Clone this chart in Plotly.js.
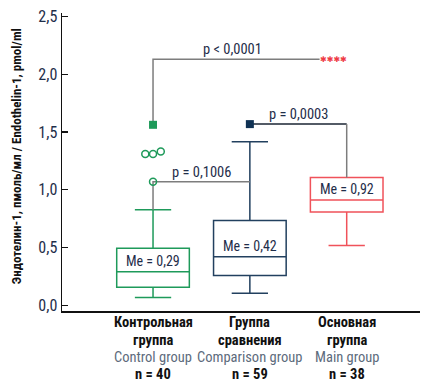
<!DOCTYPE html>
<html><head><meta charset="utf-8">
<script src="https://cdn.plot.ly/plotly-3.0.1.min.js"></script>
<style>html,body{margin:0;padding:0;background:#fff;}#chart{width:428px;height:388px;}</style>
</head><body><div id="chart"></div>
<script>
// --- data ---
const groupPos = [0, 1, 2];
const groupRu1 = ["Контрольная", "Группа", "Основная"];
const groupRu2 = ["группа", "сравнения", "группа"];
const groupEn = ["Control group", "Comparison group", "Main group"];
const groupN = [40, 59, 38];
const q1 = [0.156, 0.257, 0.808];
const median = [0.29, 0.42, 0.91];
const q3 = [0.494, 0.733, 1.106];
const lowerWhisker = [0.066, 0.104, 0.516];
const upperWhisker = [0.826, 1.415, 1.106];
const medianLabels = ["Me = 0,29", "Me = 0,42", "Me = 0,92"];
const colors = ["#1e9a5a", "#22405f", "#f0525a"];
// control group outliers (open circles), x jitter within group
const outlierX = [0, -0.08, 0, 0.08];
const outlierY = [1.07, 1.31, 1.31, 1.33];
// extreme values (filled squares)
const extremeX = [0, 1];
const extremeY = [1.562, 1.568];
// significance comparisons
const pLabels = ["p < 0,0001", "p = 0,1006", "p = 0,0003"];
const bracketY = [2.13, 1.07, 1.568];

const FONT = "'Liberation Sans Narrow', 'Arial Narrow', 'Roboto Condensed', sans-serif";
const TXT = "#1f2e4a";
const GRAY = "#7d7d7d";

const traces = groupPos.map((x, i) => ({
  type: "box",
  x: [x],
  q1: [q1[i]], median: [median[i]], q3: [q3[i]],
  lowerfence: [lowerWhisker[i]], upperfence: [upperWhisker[i]],
  width: 0.75,
  whiskerwidth: 0.5,
  fillcolor: "rgba(255,255,255,0)",
  line: {color: colors[i], width: 1.5},
  boxpoints: false,
  hoverinfo: "skip",
  showlegend: false
}));

const seg = (xs, ys, c) => ({type: "scatter", mode: "lines", x: xs, y: ys,
  line: {color: c, width: 1.5}, hoverinfo: "skip", showlegend: false});
const brackets = [
  seg([groupPos[0], groupPos[0], 1.72], [extremeY[0], bracketY[0], bracketY[0]], GRAY),
  seg([groupPos[0], groupPos[0], groupPos[1]], [upperWhisker[0], bracketY[1], bracketY[1]], GRAY),
  seg([groupPos[1], groupPos[2]], [bracketY[2], bracketY[2]], "#1a2433"),
  seg([groupPos[2], groupPos[2]], [bracketY[2], q3[2]], GRAY)
];

const outliers = {type: "scatter", mode: "markers", x: outlierX, y: outlierY,
  marker: {symbol: "circle-open", size: 7, color: colors[0], line: {width: 1.5, color: colors[0]}},
  hoverinfo: "skip", showlegend: false};
const extremes = {type: "scatter", mode: "markers", x: extremeX, y: extremeY,
  marker: {symbol: "square", size: 8, color: [colors[0], "#0f3154"]},
  hoverinfo: "skip", showlegend: false};

const data = [...brackets, ...traces, outliers, extremes];

const annotations = [];
// category labels, one annotation per line
const lineShift = [-11.5, -29, -46, -63];
groupPos.forEach((x, i) => {
  const lines = [
    {t: "<b>" + groupRu1[i] + "</b>", c: "#111"},
    {t: "<b>" + groupRu2[i] + "</b>", c: "#111"},
    {t: groupEn[i], c: "#5d6b7c"},
    {t: "<b>n = " + groupN[i] + "</b>", c: "#111"}
  ];
  lines.forEach((l, k) => annotations.push({
    x: x, xref: "x", y: 0, yref: "paper", yshift: lineShift[k], text: l.t, showarrow: false,
    xanchor: "center", yanchor: "middle", font: {family: FONT, size: 14.5, color: l.c}
  }));
});
groupPos.forEach((x, i) => annotations.push({
  x: x, y: median[i], yshift: 11, text: medianLabels[i], showarrow: false,
  font: {family: FONT, size: 14, color: TXT}, xanchor: "center", yanchor: "middle"
}));
const pX = [0.82, 0.5, 1.5];
pLabels.forEach((t, i) => annotations.push({
  x: pX[i], y: bracketY[i], text: t, showarrow: false, yanchor: "bottom", yshift: -1,
  font: {family: FONT, size: 14.5, color: TXT}
}));
annotations.push({x: 1.86, y: bracketY[0], text: "✱✱✱✱", showarrow: false,
  font: {family: "DejaVu Sans", size: 8, color: "#ee3a45"}, xanchor: "center", yanchor: "middle"});
annotations.push({xref: "paper", yref: "paper", x: -0.128, y: 0.52, xanchor: "center", yanchor: "middle",
  textangle: -90, showarrow: false,
  text: "<b>Эндотелин-1, пмоль/мл / Endothelin-1, pmol/ml</b>",
  font: {family: FONT, size: 13, color: "#111"}});

const layout = {
  width: 428, height: 388,
  margin: {l: 62, r: 8, t: 13, b: 77},
  paper_bgcolor: "#fff", plot_bgcolor: "#fff",
  separators: ", ",
  font: {family: FONT, size: 13, color: TXT},
  showlegend: false,
  xaxis: {range: [-0.94, 2.757], tickvals: groupPos, showticklabels: false,
    showgrid: false, zeroline: false, showline: true, linecolor: "#111", linewidth: 2,
    ticks: "", fixedrange: true},
  yaxis: {range: [-0.05, 2.53], tickvals: [0, 0.5, 1, 1.5, 2, 2.5], tickformat: ".1f",
    showgrid: false, zeroline: false, showline: true, linecolor: "#111", linewidth: 1.5,
    ticks: "inside", ticklen: 6, tickwidth: 1.2, tickcolor: "#111",
    tickfont: {family: FONT, size: 16, color: TXT}, fixedrange: true},
  annotations: annotations
};
Plotly.newPlot("chart", data, layout, {staticPlot: true, displayModeBar: false});
</script></body></html>
